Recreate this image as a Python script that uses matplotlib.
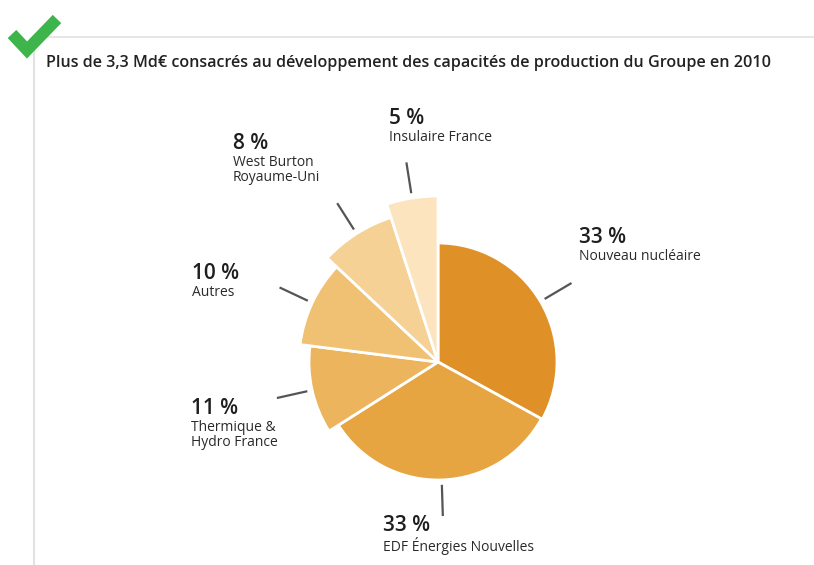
import numpy as np
import matplotlib
matplotlib.use('Agg')
import matplotlib.pyplot as plt
from matplotlib.patches import Wedge

# Data
categories = ['Nouveau nucléaire', 'EDF Énergies Nouvelles', 'Thermique &\nHydro France',
              'Autres', 'West Burton\nRoyaume-Uni', 'Insulaire France']
shares = [33, 33, 11, 10, 8, 5]
pct_labels = ['33 %', '33 %', '11 %', '10 %', '8 %', '5 %']

# Look
radii = [119, 118, 129, 139, 152, 166]
colors = ['#DF9128', '#E6A540', '#ECB45C', '#F1C173', '#F6D196', '#FCE4BF']
label_pos = [(579, 229), (383, 517), (191, 400), (192, 265), (233, 135), (389, 110)]

W, H = 814, 565
cx, cy = 438, H - 362

fig = plt.figure(figsize=(W / 100, H / 100), dpi=100)
ax = fig.add_axes([0, 0, 1, 1])
ax.set_xlim(0, W)
ax.set_ylim(0, H)
ax.axis('off')

plt.rcParams['font.family'] = ['Open Sans', 'DejaVu Sans']

# Frame lines and check mark
ax.plot([33, W], [H - 37, H - 37], color='#E2E2E2', lw=1.2)
ax.plot([34, 34], [H - 37, 0], color='#E2E2E2', lw=1.5)
ax.plot([12, 27, 57], [H - 34, H - 50, H - 19], color='#3DB54A', lw=8.5,
        solid_capstyle='butt', solid_joinstyle='miter')

ax.text(46, H - 55, 'Plus de 3,3 Md€ consacrés au développement des capacités de production du Groupe en 2010',
        fontsize=11.65, fontweight='semibold', color='#222222', va='top', ha='left')

# Wedges, clockwise from 12 o'clock
total = float(sum(shares))
start = 90.0
for val, r, col, lab, pct, (lx, ly) in zip(shares, radii, colors, categories, pct_labels, label_pos):
    span = 360.0 * val / total
    end = start - span
    ax.add_patch(Wedge((cx, cy), r, end, start, facecolor=col, edgecolor='white', lw=2))
    mid = np.deg2rad((start + end) / 2)
    r0, r1 = r + 6, r + 35
    ax.plot([cx + r0 * np.cos(mid), cx + r1 * np.cos(mid)],
            [cy + r0 * np.sin(mid), cy + r1 * np.sin(mid)], color='#555555', lw=1.6)
    ax.text(lx, H - ly + 2, pct, fontsize=15, fontweight='semibold', color='#1E1E1E',
            va='top', ha='left')
    ax.text(lx, H - ly - 20, lab, fontsize=10, color='#2A2A2A', va='top', ha='left',
            linespacing=1.0)
    start = end

fig.savefig('out.png', dpi=100)
